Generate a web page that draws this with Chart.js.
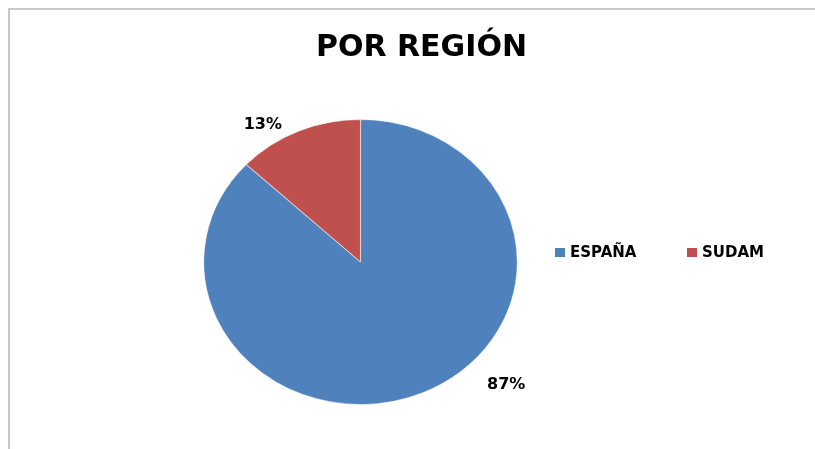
<!DOCTYPE html>
<html>
<head>
<meta charset="utf-8">
<script src="https://cdn.jsdelivr.net/npm/chart.js@4.4.1/dist/chart.umd.min.js"></script>
<style>
    body { margin: 0; background: #fff; overflow: hidden; }
    #wrap { position: relative; width: 815px; height: 449px; overflow: hidden; }
    #frame { position: absolute; left: 8px; top: 8px; width: 900px; height: 500px;
        border-top: 2px solid #c8c8c8; border-left: 2px solid #c8c8c8; }
    #titulo { position: absolute; left: 0; width: 843px; top: 28px; text-align: center;
        font: bold 30px "DejaVu Sans", sans-serif; color: #000; }
    #leyenda { position: absolute; left: 555px; top: 243px; font: bold 15px "DejaVu Sans", sans-serif; }
    #leyenda span.item { position: absolute; white-space: nowrap; }
    #leyenda i { display: inline-block; width: 10px; height: 9px; margin-right: 5px; vertical-align: 0px; }
    canvas { position: absolute; left: 0; top: 0; }
</style>
</head>
<body>
<div id="wrap">
    <div id="frame"></div>
    <canvas id="pie" width="815" height="449"></canvas>
    <div id="titulo">POR REGIÓN</div>
    <div id="leyenda"></div>
</div>
<script>
// datos
var regiones = ["ESPAÑA", "SUDAM"];
var porcentajes = [87, 13];
var colores = ["#4F81BD", "#C0504D"];

// estilo de etiquetas (posicion relativa al sector)
var etiquetaFrac = [0.424, 0.297];
var etiquetaOffset = [38, 21];
var estiramiento = 1.1;

// leyenda
var ley = document.getElementById("leyenda");
var posLey = [0, 132];
regiones.forEach(function(r, i) {
    var s = document.createElement("span");
    s.className = "item";
    s.style.left = posLey[i] + "px";
    s.innerHTML = '<i style="background:' + colores[i] + '"></i>' + r;
    ley.appendChild(s);
});

// estirar el pastel en horizontal
var estirar = {
    id: "estirar",
    beforeDatasetsDraw: function(chart) {
        var arc = chart.getDatasetMeta(0).data[0];
        var ctx = chart.ctx;
        ctx.save();
        ctx.translate(arc.x, arc.y);
        ctx.scale(estiramiento, 1);
        ctx.translate(-arc.x, -arc.y);
    },
    afterDatasetsDraw: function(chart) {
        chart.ctx.restore();
    }
};

// etiquetas de porcentaje
var etiquetas = {
    id: "etiquetas",
    afterDraw: function(chart) {
        var ctx = chart.ctx;
        ctx.save();
        ctx.font = "bold 16px 'DejaVu Sans', sans-serif";
        ctx.fillStyle = "#000";
        ctx.textAlign = "center";
        ctx.textBaseline = "middle";
        chart.getDatasetMeta(0).data.forEach(function(arc, i) {
            var a = arc.startAngle + (arc.endAngle - arc.startAngle) * etiquetaFrac[i];
            var rr = arc.outerRadius + etiquetaOffset[i];
            var x = arc.x + Math.cos(a) * rr * estiramiento;
            var y = arc.y + Math.sin(a) * rr;
            ctx.fillText(porcentajes[i] + "%", x, y);
        });
        ctx.restore();
    }
};

var grafico = new Chart(document.getElementById("pie").getContext("2d"), {
    type: "pie",
    data: {
        labels: regiones,
        datasets: [{
            data: porcentajes,
            backgroundColor: colores,
            borderColor: "rgba(255,255,255,0.5)",
            borderWidth: 1
        }]
    },
    options: {
        responsive: false,
        animation: false,
        layout: { padding: { left: 217, right: 311, top: 119, bottom: 44 } },
        plugins: {
            legend: { display: false },
            title: { display: false },
            tooltip: { enabled: false }
        }
    },
    plugins: [estirar, etiquetas]
});
</script>
</body>
</html>
